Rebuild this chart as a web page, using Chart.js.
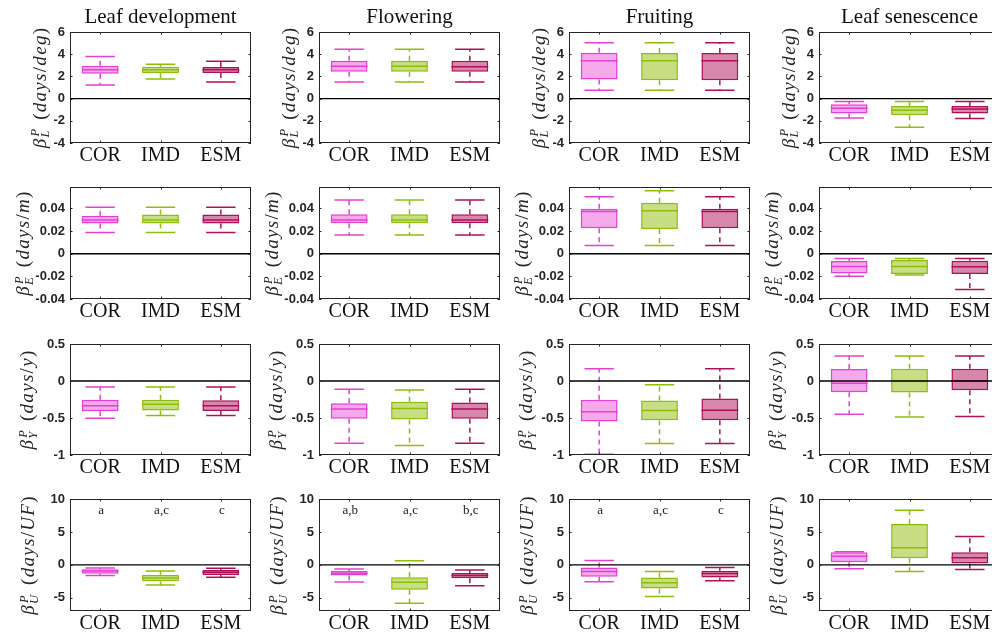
<!DOCTYPE html>
<html><head><meta charset="utf-8">
<script src="https://cdn.jsdelivr.net/npm/chart.js@4.4.0/dist/chart.umd.min.js"></script>
<style>
html,body{margin:0;padding:0;background:#fff;width:992px;height:633px;overflow:hidden;position:relative;}
canvas{position:absolute;}
</style></head><body>
<script>
// ---------------- data ----------------
const categories = ['COR', 'IMD', 'ESM'];
const stages = ['Leaf development', 'Flowering', 'Fruiting', 'Leaf senescence'];
// each box: [lower whisker, q1, median, q3, upper whisker]; per stage: [COR, IMD, ESM]
const betaL = [
  [[1.23, 2.25, 2.6, 2.95, 3.8], [1.77, 2.3, 2.6, 2.88, 3.1], [1.5, 2.3, 2.6, 2.85, 3.36]],
  [[1.5, 2.43, 2.91, 3.42, 4.44], [1.5, 2.43, 2.91, 3.42, 4.44], [1.5, 2.43, 2.88, 3.4, 4.44]],
  [[0.75, 1.71, 3.42, 4.14, 5.04], [0.75, 1.65, 3.42, 4.11, 5.04], [0.75, 1.65, 3.42, 4.11, 5.04]],
  [[-1.74, -1.35, -0.87, -0.51, -0.27], [-2.58, -1.5, -1.05, -0.66, -0.27], [-1.8, -1.35, -0.93, -0.66, -0.27]]
];
const betaE = [
  [[0.0187, 0.0267, 0.0299, 0.0335, 0.0412], [0.0187, 0.0267, 0.0299, 0.0347, 0.0412], [0.0187, 0.0267, 0.0299, 0.0347, 0.0412]],
  [[0.0165, 0.027, 0.0298, 0.035, 0.0474], [0.0165, 0.027, 0.0298, 0.035, 0.0474], [0.0165, 0.027, 0.0298, 0.035, 0.0474]],
  [[0.0074, 0.0225, 0.0373, 0.0397, 0.0504], [0.0074, 0.0219, 0.0379, 0.045, 0.0557], [0.0074, 0.0225, 0.0373, 0.0397, 0.0504]],
  [[-0.0199, -0.0175, -0.0113, -0.0065, -0.0041], [-0.0187, -0.0178, -0.0113, -0.0056, -0.0041], [-0.0317, -0.0178, -0.0116, -0.0062, -0.0041]]
];
const betaY = [
  [[-0.503, -0.409, -0.333, -0.252, -0.081], [-0.467, -0.4, -0.315, -0.252, -0.081], [-0.467, -0.404, -0.333, -0.26, -0.081]],
  [[-0.84, -0.51, -0.38, -0.3, -0.11], [-0.87, -0.52, -0.37, -0.28, -0.12], [-0.84, -0.51, -0.38, -0.29, -0.11]],
  [[-0.99, -0.548, -0.414, -0.252, 0.164], [-0.845, -0.53, -0.4, -0.265, -0.05], [-0.845, -0.53, -0.396, -0.238, 0.164]],
  [[-0.45, -0.153, -0.031, 0.162, 0.337], [-0.485, -0.157, 0.0, 0.166, 0.337], [-0.48, -0.126, 0.0, 0.166, 0.337]]
];
const betaU = [
  [[-1.6, -1.33, -0.92, -0.66, -0.46], [-3.06, -2.5, -1.99, -1.48, -0.92], [-1.89, -1.53, -1.12, -0.77, -0.51]],
  [[-2.6, -1.63, -1.28, -0.92, -0.61], [-5.82, -3.78, -2.65, -1.89, 0.61], [-3.16, -2.04, -1.63, -1.22, -0.77]],
  [[-2.55, -1.8, -1.0, -0.4, 0.66], [-4.8, -3.6, -2.7, -1.9, -1.0], [-2.4, -1.9, -1.3, -0.9, -0.4]],
  [[-0.6, 0.4, 1.3, 1.9, 2.0], [-1.0, 1.0, 2.6, 6.2, 8.3], [-0.7, 0.2, 1.1, 1.9, 4.3]]
];
const lettersU = [['a', 'a,c', 'c'], ['a,b', 'a,c', 'b,c'], ['a', 'a,c', 'c'], null];
const yTicksL = [-4, -2, 0, 2, 4, 6];
const yTicksE = [-0.04, -0.02, 0, 0.02, 0.04];
const yTicksY = [-1, -0.5, 0, 0.5];
const yTicksU = [-5, 0, 5, 10];
const yLimL = [-4, 6], yLimE = [-0.04, 0.059], yLimY = [-1, 0.5], yLimU = [-7, 10];
const ySubs = ['L', 'E', 'Y', 'U'];
const yDens = ['deg', 'm', 'y', 'UF'];

// ---------------- style / layout ----------------
const edgeColors = ['rgb(230,64,210)', 'rgb(143,190,10)', 'rgb(176,16,88)'];
const fillColors = ['rgba(230,64,210,0.45)', 'rgba(143,190,10,0.5)', 'rgba(176,16,88,0.5)'];
const plotLefts = [70, 319, 569, 819];
const plotTops = [32, 187, 344, 499];
const plotHeights = [111, 112, 111, 112];
const labelOffsets = [24.5, 41, 37, 36];
const plotW = 181;
const PADL = 70, PADT = 34, PADR = 4, PADB = 28;
const SERIF = '"Liberation Serif", "Times New Roman", serif';
const AX = '#262626';

function drawSpaced(ctx, text, x, y, sp) {
  for (const ch of text) { ctx.fillText(ch, x, y); x += ctx.measureText(ch).width + sp; }
  return x;
}
function spacedWidth(ctx, text, sp) {
  let w = 0; for (const ch of text) w += ctx.measureText(ch).width + sp; return w;
}
function drawYLabel(ctx, bx, cy, sub, den) {
  const big = 19, small = 12.5, sp = 1.3;
  const fI = `italic ${big}px ${SERIF}`, fR = `${big}px ${SERIF}`, fS = `italic ${small}px ${SERIF}`;
  const runs = [
    {t: 'β', f: fI}, {stack: true, f: fS}, {t: ' ', f: fR, gap: 2},
    {t: '(', f: fR}, {t: 'days', f: fI}, {t: '/', f: fR}, {t: den, f: fI}, {t: ')', f: fR}
  ];
  let total = 0;
  for (const r of runs) {
    ctx.font = r.f;
    if (r.stack) r.w = Math.max(ctx.measureText('P').width, ctx.measureText(sub).width) + 2;
    else r.w = spacedWidth(ctx, r.t, sp) + (r.gap || 0);
    total += r.w;
  }
  ctx.save();
  ctx.translate(bx, cy);
  ctx.rotate(-Math.PI / 2);
  ctx.fillStyle = AX;
  ctx.textBaseline = 'alphabetic';
  ctx.textAlign = 'left';
  let x = -total / 2;
  for (const r of runs) {
    ctx.font = r.f;
    if (r.stack) {
      ctx.fillText('P', x + 1, -6.5);
      ctx.fillText(sub, x, 3.5);
    } else {
      drawSpaced(ctx, r.t, x, 0, sp);
    }
    x += r.w;
  }
  ctx.restore();
}

const panelPlugin = {
  id: 'panel',
  afterDatasetsDraw(chart, args, opts) {
    const ctx = chart.ctx, xs = chart.scales.x, ys = chart.scales.y, ca = chart.chartArea;
    const meta = chart.getDatasetMeta(0);
    ctx.save();
    opts.stats.forEach((s, i) => {
      const cx = xs.getPixelForValue(i);
      const w = meta.data[i].width;
      const capW = w * 0.8;
      ctx.strokeStyle = edgeColors[i];
      ctx.lineWidth = 1.5;
      ctx.setLineDash([5, 4]);
      ctx.beginPath();
      ctx.moveTo(cx, ys.getPixelForValue(s[3])); ctx.lineTo(cx, ys.getPixelForValue(s[4]));
      ctx.moveTo(cx, ys.getPixelForValue(s[1])); ctx.lineTo(cx, ys.getPixelForValue(s[0]));
      ctx.stroke();
      ctx.setLineDash([]);
      ctx.beginPath();
      [s[0], s[4]].forEach(v => {
        const py = ys.getPixelForValue(v);
        ctx.moveTo(cx - capW / 2, py); ctx.lineTo(cx + capW / 2, py);
      });
      const pm = ys.getPixelForValue(s[2]);
      ctx.moveTo(cx - w / 2, pm); ctx.lineTo(cx + w / 2, pm);
      ctx.stroke();
    });
    const z = ys.getPixelForValue(0);
    ctx.strokeStyle = '#000';
    ctx.lineWidth = 1.4;
    ctx.beginPath(); ctx.moveTo(ca.left, z); ctx.lineTo(ca.right, z); ctx.stroke();
    ctx.strokeStyle = AX;
    ctx.lineWidth = 1;
    ctx.strokeRect(ca.left + 0.5, ca.top + 0.5, ca.right - ca.left - 1, ca.bottom - ca.top - 1);
    const tl = 2.5;
    ctx.beginPath();
    ys.ticks.forEach(t => {
      const py = Math.round(ys.getPixelForValue(t.value)) + 0.5;
      ctx.moveTo(ca.left, py); ctx.lineTo(ca.left + tl, py);
      ctx.moveTo(ca.right, py); ctx.lineTo(ca.right - tl, py);
    });
    categories.forEach((c, i) => {
      const px = Math.round(xs.getPixelForValue(i)) + 0.5;
      ctx.moveTo(px, ca.top); ctx.lineTo(px, ca.top + tl);
      ctx.moveTo(px, ca.bottom); ctx.lineTo(px, ca.bottom - tl);
    });
    ctx.stroke();
    if (opts.letters) {
      ctx.fillStyle = '#222';
      ctx.font = `13px ${SERIF}`;
      ctx.textAlign = 'center';
      ctx.textBaseline = 'alphabetic';
      opts.letters.forEach((l, i) => {
        ctx.fillText(l, xs.getPixelForValue(i) + 1, ys.getPixelForValue(opts.letterY));
      });
    }
    if (opts.title) {
      ctx.fillStyle = '#111';
      ctx.font = `21px ${SERIF}`;
      ctx.textAlign = 'center';
      ctx.textBaseline = 'alphabetic';
      ctx.fillText(opts.title, (ca.left + ca.right) / 2, ca.top - 9);
    }
    drawYLabel(ctx, ca.left - opts.labelOffset, (ca.top + ca.bottom) / 2, opts.sub, opts.den);
    ctx.restore();
  }
};

function fmt(v) { return String(Number(v.toFixed(4))); }

const rowsData = [betaL, betaE, betaY, betaU];
const rowTicks = [yTicksL, yTicksE, yTicksY, yTicksU];
const rowLims = [yLimL, yLimE, yLimY, yLimU];

rowsData.forEach((rowData, r) => {
  stages.forEach((stage, c) => {
    const stats = rowData[c];
    const cv = document.createElement('canvas');
    const W = PADL + plotW + PADR, H = PADT + plotHeights[r] + PADB;
    cv.width = W; cv.height = H;
    cv.style.left = (plotLefts[c] - PADL) + 'px';
    cv.style.top = (plotTops[r] - PADT) + 'px';
    cv.style.width = W + 'px'; cv.style.height = H + 'px';
    document.body.appendChild(cv);
    const ticks = rowTicks[r];
    new Chart(cv, {
      type: 'bar',
      data: {
        labels: categories,
        datasets: [{
          data: stats.map(s => [s[1], s[3]]),
          backgroundColor: fillColors,
          borderColor: edgeColors,
          borderWidth: 1.5,
          borderSkipped: false,
          barPercentage: 0.61,
          categoryPercentage: 1
        }]
      },
      options: {
        responsive: false,
        animation: false,
        devicePixelRatio: 1,
        events: [],
        layout: {padding: {left: 0, top: PADT, right: PADR, bottom: 0}},
        plugins: {
          legend: {display: false},
          tooltip: {enabled: false},
          panel: {
            stats: stats,
            title: r === 0 ? stage : null,
            sub: ySubs[r], den: yDens[r],
            labelOffset: labelOffsets[r],
            letters: r === 3 ? lettersU[c] : null,
            letterY: 7.7
          }
        },
        scales: {
          x: {
            type: 'category',
            grid: {display: false, drawTicks: false},
            border: {display: false},
            ticks: {font: {family: SERIF, size: 20, lineHeight: 1}, color: '#111', padding: 3, maxRotation: 0, autoSkip: false},
            afterFit(s) { s.height = PADB; }
          },
          y: {
            type: 'linear',
            min: rowLims[r][0], max: rowLims[r][1],
            grid: {display: false, drawTicks: false},
            border: {display: false},
            afterBuildTicks(s) { s.ticks = ticks.map(v => ({value: v})); },
            ticks: {
              font: {family: '"Liberation Sans", Arial, sans-serif', size: 13, weight: 'bold'},
              color: AX, padding: 5, autoSkip: false,
              callback: v => fmt(v)
            },
            afterFit(s) { s.width = PADL; }
          }
        }
      },
      plugins: [panelPlugin]
    });
  });
});
</script>
</body></html>
